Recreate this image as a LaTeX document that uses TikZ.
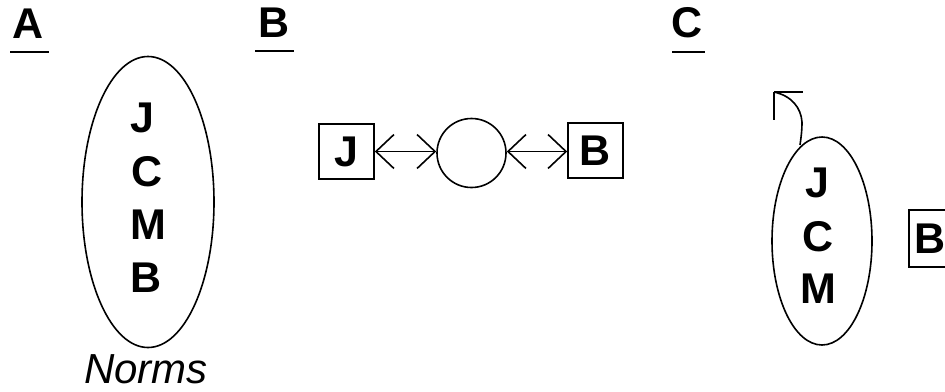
\documentclass[tikz,border=0pt]{standalone}
\usepackage{fontspec}
\setmainfont{Liberation Sans}
\usetikzlibrary{shapes.geometric,arrows.meta}
\begin{document}
\begin{tikzpicture}[x=1pt,y=-1pt,
  ln/.style={line width=1.6pt},
  letter/.style={inner sep=0pt,font=\fontsize{43}{43}\selectfont\bfseries},
  lbox/.style={ln,draw,minimum width=55pt,minimum height=55pt,inner sep=0pt,font=\fontsize{43}{43}\selectfont\bfseries},
  oval/.style={ln,draw,ellipse,inner sep=0pt},
  barb/.style={ln,{Straight Barb[length=18pt,width=34pt]}-{Straight Barb[length=18pt,width=34pt]}}
]
\clip (0,0) rectangle (945,391);
\useasboundingbox (0,0) rectangle (945,391);
% Panel labels
\node[letter] (la) at (28.5,23.5) {A};
\draw[ln] (10,52) -- (49,52);
\node[letter] (lb) at (274,23) {B};
\draw[ln] (255,51) -- (294,51);
\node[letter] (lc) at (687,23) {C};
\draw[ln] (672,52) -- (705,52);
% Panel A
\node[oval,minimum width=132pt,minimum height=291pt] (ea) at (148,202) {};
\node[letter] (aj) at (142,118) {J};
\node[letter] (ac) at (147,172) {C};
\node[letter] (am) at (148,225) {M};
\node[letter] (ab) at (146,278) {B};
\node[inner sep=0pt,font=\fontsize{42}{42}\selectfont\itshape] (norms) at (146,369) {Norms};
% Panel B
\node[lbox] (bj) at (346.5,151.5) {J};
\node[ln,draw,circle,minimum size=69pt,inner sep=0pt] (bc) at (471.5,153) {};
\node[lbox] (bb) at (595.5,150.5) {B};
\draw[barb] (bj.east) -- (bc.west |- bj.east);
\draw[barb] (bc.east |- bj.east) -- (bb.west |- bj.east);
% Panel C
\node[oval,minimum width=100pt,minimum height=208pt] (ec) at (822,241) {};
\node[letter] (cj) at (817,183) {J};
\node[letter] (cc) at (818,237) {C};
\node[letter] (cm) at (818,289) {M};
\node[lbox,minimum width=57pt,minimum height=57pt] (cb) at (937.5,238.5) {};
\node[letter] (cbl) at (930,238.5) {B};
\coordinate (tip) at (774,92);
\draw[ln] (800,145) .. controls (801,138) and (802,131) .. (802,122) .. controls (801,108) and (792,96) .. (tip);
\draw[ln] (tip) -- (803,92);
\draw[ln] (tip) -- (774,120);
\end{tikzpicture}
\end{document}
